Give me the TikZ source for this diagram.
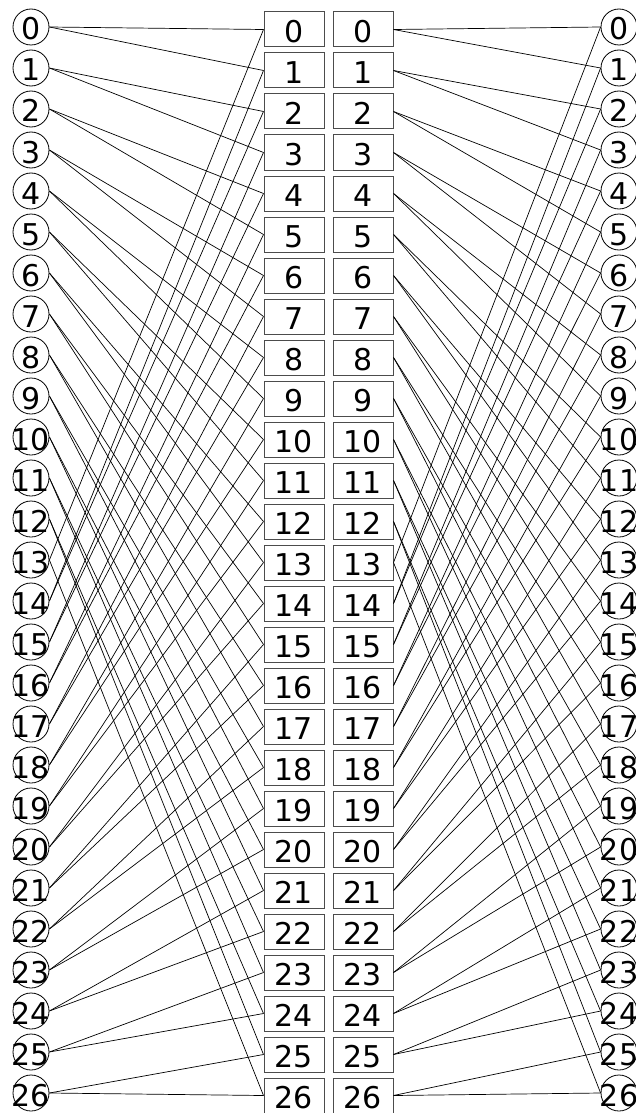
\documentclass[tikz,border=0pt]{standalone}
\usepackage{fontspec}
\setmainfont{DejaVu Sans}
\begin{document}
\begin{tikzpicture}[
    x=1pt,y=-1pt,
    every node/.style={font=\fontsize{30}{36}\selectfont},
    slot/.style={circle,draw,line width=.8pt,minimum size=36pt,inner sep=0pt,text height=26pt,text depth=0pt},
    cell/.style={rectangle,draw=black!70,line width=1pt,minimum width=60pt,minimum height=35pt,inner sep=0pt,text height=26pt,text depth=0pt},
    wire/.style={line width=.7pt},
  ]
    \useasboundingbox (0,0) rectangle (636,1113);
    % four columns: left slots, left cells, right cells, right slots
    \foreach \i in {0,...,26} {
      \node[slot] (lc\i) at (31,27+41*\i) {\makebox[0pt]{\i}};
      \node[cell] (lb\i) at (294,29.5+41*\i) {\i};
      \node[cell] (rb\i) at (363,29.5+41*\i) {\i};
      \node[slot] (rc\i) at (619,27+41*\i) {\makebox[0pt]{\i}};
    }
    % i goes to 2i and 2i+1, taken mod 27
    \foreach \i in {0,...,26} {
      \pgfmathtruncatemacro\ea{mod(2*\i,27)}
      \pgfmathtruncatemacro\eb{mod(2*\i+1,27)}
      \draw[wire] (lc\i.east) -- (lb\ea.west);
      \draw[wire] (lc\i.east) -- (lb\eb.west);
      \draw[wire] (rb\i.east) -- (rc\ea.west);
      \draw[wire] (rb\i.east) -- (rc\eb.west);
    }
  \end{tikzpicture}
\end{document}
